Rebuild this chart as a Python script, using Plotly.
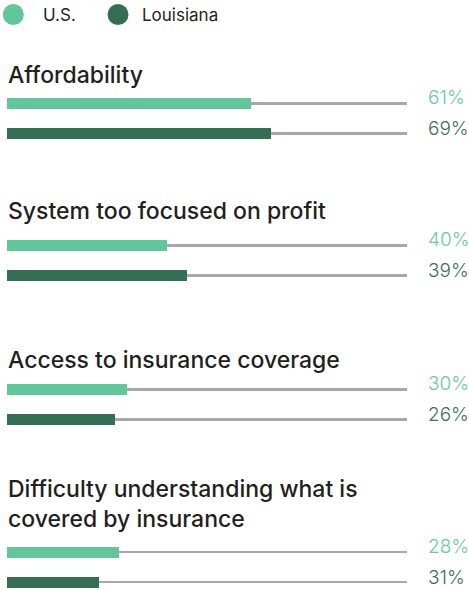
import plotly.graph_objects as go

# ---- data ----
categories = [
    "Affordability",
    "System too focused on profit",
    "Access to insurance coverage",
    "Difficulty understanding what is<br>covered by insurance",
]
series_names = ["U.S.", "Louisiana"]
us_values = [61, 40, 30, 28]          # bar lengths (%)
la_values = [66, 45, 27, 23]          # bar lengths as drawn (%)
us_labels = ["61%", "40%", "30%", "28%"]
la_labels = ["69%", "39%", "26%", "31%"]

# ---- styles / layout ----
W, H = 469, 590
US_COLOR = "#63C59A"
LA_COLOR = "#356E55"
US_TEXT = "#6CC9A0"
LA_TEXT = "#3C7059"
TRACK = "#A8A8AB"
INK = "#231F20"
FONT = "Inter"
PX_LEFT = 7        # pixel where 0% sits
PX_PER_PCT = 4     # pixels per percentage point
row_centers = [103.5, 245.5, 389.5, 552]   # pixel y of U.S. bar in each group
title_baselines = [84, 220, 369.3, 528.3]  # pixel y of last title line baseline
pair_gap = 30
bar_h = 11
track_h = 2.8
TITLE_SIZE = 23
LABEL_SIZE = 19

x_min = -PX_LEFT / PX_PER_PCT
x_max = (W - PX_LEFT) / PX_PER_PCT

fig = go.Figure()

us_y = list(row_centers)
la_y = [y + pair_gap for y in row_centers]

# gray tracks (full 100%)
fig.add_trace(go.Bar(
    orientation="h", x=[100] * (2 * len(categories)), y=us_y + la_y,
    width=track_h, marker=dict(color=TRACK, line=dict(width=0)),
    showlegend=False, hoverinfo="skip"))

fig.add_trace(go.Bar(
    orientation="h", x=us_values, y=us_y, width=bar_h, name=series_names[0],
    marker=dict(color=US_COLOR, line=dict(width=0)), showlegend=False))
fig.add_trace(go.Bar(
    orientation="h", x=la_values, y=la_y, width=bar_h, name=series_names[1],
    marker=dict(color=LA_COLOR, line=dict(width=0)), showlegend=False))

annotations = []
# value labels
label_x = (426 - PX_LEFT) / PX_PER_PCT
for i in range(len(categories)):
    annotations.append(dict(x=label_x, y=us_y[i] - 6, text=us_labels[i], xanchor="left",
                            yanchor="middle", showarrow=False,
                            font=dict(family=FONT, size=LABEL_SIZE, color=US_TEXT, weight=300)))
    annotations.append(dict(x=label_x, y=la_y[i] - 5, text=la_labels[i], xanchor="left",
                            yanchor="middle", showarrow=False,
                            font=dict(family=FONT, size=LABEL_SIZE, color=LA_TEXT, weight=300)))
    # category titles
    annotations.append(dict(x=x_min, xshift=PX_LEFT - 1, y=title_baselines[i] + 0.3 * TITLE_SIZE,
                            text=categories[i],
                            xanchor="left", yanchor="bottom", align="left", showarrow=False,
                            font=dict(family=FONT, size=TITLE_SIZE, color=INK, weight=500)))

# manual legend
leg_y = 14.5
leg_items = [(13.3, 41, series_names[0], US_COLOR), (118, 140, series_names[1], LA_COLOR)]
for cx, tx, name, col in leg_items:
    fig.add_trace(go.Scatter(
        x=[(cx - PX_LEFT) / PX_PER_PCT], y=[leg_y], mode="markers",
        marker=dict(size=21, color=col, symbol="circle", line=dict(width=0)),
        showlegend=False, hoverinfo="skip"))
    annotations.append(dict(x=(tx - PX_LEFT) / PX_PER_PCT, y=leg_y, text=name,
                            xanchor="left", yanchor="middle", showarrow=False,
                            font=dict(family=FONT, size=17, color=INK, weight=400)))

fig.update_layout(
    width=W, height=H,
    margin=dict(l=0, r=0, t=0, b=0),
    paper_bgcolor="white", plot_bgcolor="white",
    barmode="overlay", bargap=0,
    xaxis=dict(range=[x_min, x_max], visible=False, fixedrange=True),
    yaxis=dict(range=[H, 0], visible=False, fixedrange=True),
    annotations=annotations,
    showlegend=False,
)

fig.write_html("out.html", config={"displayModeBar": False},
               post_script="document.body.style.margin='0';document.body.style.padding='0';")
